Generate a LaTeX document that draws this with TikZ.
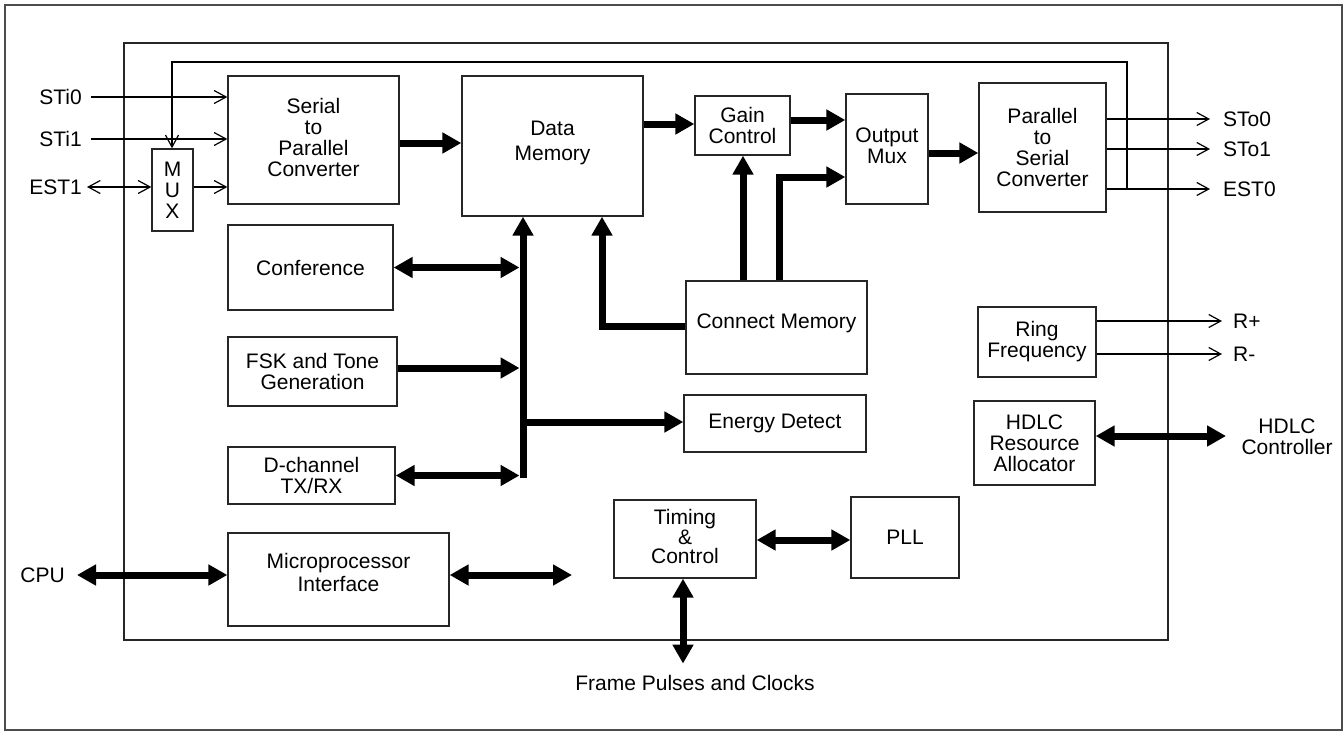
\documentclass[tikz,border=0pt]{standalone}
\usepackage{fontspec}
\setmainfont{Liberation Sans}
\usetikzlibrary{arrows.meta}
\begin{document}
\begin{tikzpicture}[x=1pt,y=-1pt,
  every node/.style={font=\fontsize{21}{21}\selectfont},
  box/.style={draw=black!85,line width=1.3pt,align=center,inner sep=0pt},
  txt/.style={align=center,inner sep=0pt},
  wire/.style={line width=1.2pt},
  sig/.style={line width=1.2pt,-{Straight Barb[length=12pt,width=13pt]}},
  sigdbl/.style={line width=1.2pt,{Straight Barb[length=12pt,width=13pt]}-{Straight Barb[length=12pt,width=13pt]}},
  bus/.style={line width=7pt,-{Triangle[length=19pt,width=20pt]}},
  busdbl/.style={line width=7pt,{Triangle[length=19pt,width=20pt]}-{Triangle[length=19pt,width=20pt]}},
  busline/.style={line width=7pt}
]
\useasboundingbox (0,0) rectangle (1343,731);
% frames
\draw[line width=2pt,draw=black!70] (4.5,5) rectangle (1341.5,729.5);
\draw[line width=1.3pt,draw=black!85] (124,43) rectangle (1168,640);

% boxes
\node[box,minimum width=171pt,minimum height=128pt] (sp) at (313.5,140) {};
\node[txt] (spt) at (313.5,137.5) {Serial\\to\\Parallel\\Converter};
\node[box,minimum width=181pt,minimum height=140pt] (dm) at (552.5,146) {};
\node[txt] (dmt) at (552.5,143) {Data\\[4pt]Memory};
\node[box,minimum width=95pt,minimum height=59pt] (gain) at (742.5,125.5) {Gain\\Control};
\node[box,minimum width=82pt,minimum height=110pt] (omux) at (887,149) {};
\node[txt] (omuxt) at (887,146) {Output\\Mux};
\node[box,minimum width=127pt,minimum height=129pt] (ps) at (1042.5,147.5) {Parallel\\to\\Serial\\Converter};
\node[box,minimum width=41pt,minimum height=82pt] (mux) at (172.5,190) {M\\U\\X};
\node[box,minimum width=165pt,minimum height=85pt] (conf) at (310.5,267.5) {Conference};
\node[box,minimum width=169pt,minimum height=69pt] (fsk) at (312.5,371.5) {FSK and Tone\\Generation};
\node[box,minimum width=167pt,minimum height=57pt] (dch) at (311.5,475.5) {D-channel\\TX/RX};
\node[box,minimum width=181pt,minimum height=93pt] (cm) at (776.5,327.5) {};
\node[txt] (cmt) at (776.5,323.5) {Connect Memory};
\node[box,minimum width=182pt,minimum height=57pt] (ed) at (775,423.5) {Energy Detect};
\node[box,minimum width=118pt,minimum height=70pt] (ring) at (1037,342) {Ring\\Frequency};
\node[box,minimum width=121pt,minimum height=84pt] (hdlc) at (1034.5,443) {HDLC\\Resource\\Allocator};
\node[box,minimum width=142pt,minimum height=78pt] (timing) at (685,539) {};
\node[txt] (timingt) at (685,536) {Timing\\[-1pt]\&\\[-2pt]Control};
\node[box,minimum width=108pt,minimum height=81pt] (pll) at (905,537.5) {PLL};
\node[box,minimum width=221pt,minimum height=93pt] (micro) at (338.5,579.5) {};
\node[txt] (microt) at (338.5,572.5) {Microprocessor\\[2pt]Interface};

% external labels
\node[anchor=east,inner sep=0pt,inner xsep=9pt] (sti0) at (91,97) {STi0};
\node[anchor=east,inner sep=0pt,inner xsep=9pt] (sti1) at (91,139) {STi1};
\node[anchor=east,inner sep=0pt,inner xsep=5pt] (est1) at (87,187) {EST1};
\node[anchor=west,inner sep=0pt,inner xsep=13pt] (sto0) at (1210,119) {STo0};
\node[anchor=west,inner sep=0pt,inner xsep=13pt] (sto1) at (1210,149) {STo1};
\node[anchor=west,inner sep=0pt,inner xsep=13pt] (est0) at (1210,189) {EST0};
\node[anchor=west,inner sep=0pt,inner xsep=11pt] (rp) at (1222,321) {R+};
\node[anchor=west,inner sep=0pt,inner xsep=11pt] (rm) at (1222,354) {R-};
\node[txt] (hdlcc) at (1287,437) {HDLC\\Controller};
\node[anchor=east,inner sep=0pt,inner xsep=12pt] (cpu) at (77,575) {CPU};
\node[inner sep=0pt,inner ysep=11.5pt] (frame) at (695,683) {Frame Pulses and Clocks};

% coordinates
\coordinate (busb) at (523,478);
\coordinate (fb) at (1127,189);
\coordinate (hdlcend) at (1226,436);
\coordinate (microend) at (572,575);

% thin signals
\draw[sig] (sti0.east) -- (sp.west |- sti0.east);
\draw[sig] (sti1.east) -- (sp.west |- sti1.east);
\draw[sigdbl] (est1.east) -- (mux.west |- est1.east);
\draw[sig] (mux.east |- 0,187) -- (sp.west |- 0,187);
\draw[sig] (ps.east |- sto0.west) -- (sto0.west);
\draw[sig] (ps.east |- sto1.west) -- (sto1.west);
\draw[sig] (ps.east |- est0.west) -- (est0.west);
\draw[sig] (fb) -- (1127,62) -- (172,62) -- (mux.north -| 172,0);
\draw[sig] (ring.east |- rp.west) -- (rp.west);
\draw[sig] (ring.east |- rm.west) -- (rm.west);

% buses
\draw[bus] (sp.east |- 0,143) -- (dm.west |- 0,143);
\draw[bus] (dm.east |- 0,124) -- (gain.west |- 0,124);
\draw[bus] (gain.east |- 0,120) -- (omux.west |- 0,120);
\draw[bus] (omux.east |- 0,153) -- (ps.west |- 0,153);
\draw[bus] (cm.north -| 743,0) -- (gain.south -| 743,0);
\draw[bus] (cm.north -| 779,0) -- (779,177) -- (omux.west |- 0,177);
\draw[bus] (cm.west |- 0,326) -- (602,326) -- (dm.south -| 602,0);
\draw[bus] (busb) -- (busb |- dm.south);
\draw[busdbl] (conf.east) -- (519.5,267.5);
\draw[bus] (fsk.east |- 0,368) -- (519.5,368);
\draw[busdbl] (dch.east) -- (519.5,475.5);
\draw[bus] (523,422) -- (ed.west |- 0,422);
\draw[busdbl] (hdlc.east |- hdlcend) -- (hdlcend);
\draw[busdbl] (cpu.east) -- (micro.west |- cpu.east);
\draw[busdbl] (micro.east |- microend) -- (microend);
\draw[busdbl] (timing.east |- 0,540) -- (pll.west |- 0,540);
\draw[busdbl] (timing.south -| 683,0) -- (frame.north -| 683,0);
\end{tikzpicture}
\end{document}
